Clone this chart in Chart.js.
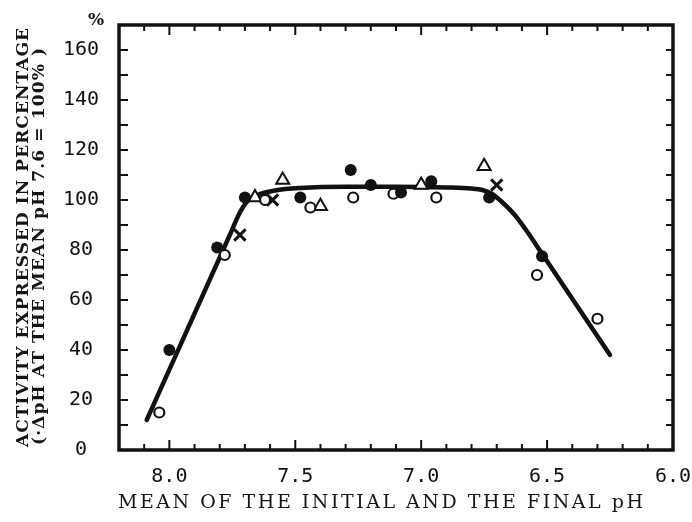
<!DOCTYPE html>
<html><head><meta charset="utf-8">
<script src="https://cdn.jsdelivr.net/npm/chart.js@4.4.1/dist/chart.umd.min.js"></script>
<style>html,body{margin:0;padding:0;background:#fff}#wrap{width:692px;height:522px;position:relative}</style>
</head><body><div id="wrap"><canvas id="c" width="692" height="522"></canvas></div>
<script>
// ---- data ----
const filledX = [8.00, 7.81, 7.70, 7.48, 7.28, 7.20, 7.08, 6.96, 6.73, 6.52];
const filledY = [40, 81, 101, 101, 112, 106, 103, 107.5, 101, 77.5];
const openX = [8.04, 7.78, 7.62, 7.44, 7.27, 7.11, 6.94, 6.54, 6.30];
const openY = [15, 78, 100, 97, 101, 102.5, 101, 70, 52.5];
const triX = [7.66, 7.55, 7.40, 7.00, 6.75];
const triY = [101, 108, 97.5, 106, 113.5];
const crossX = [7.72, 7.59, 6.70];
const crossY = [86, 100, 106];
const curveX = [8.09, 7.76, 7.72, 7.69, 7.65, 7.58, 7.48, 7.30, 7.10, 6.90, 6.80, 6.76, 6.72, 6.68, 6.63, 6.58, 6.52, 6.43, 6.31, 6.25];
const curveY = [12, 86, 95, 99.5, 102, 103.8, 104.8, 105.3, 105.3, 105, 104.6, 104.1, 102.5, 99.3, 94.2, 87.5, 78.5, 65, 47, 38];

const xTickValues = [8.0, 7.5, 7.0, 6.5, 6.0];
const xMinorTicks = [8.1, 8.0, 7.9, 7.8, 7.7, 7.6, 7.5, 7.4, 7.3, 7.2, 7.1, 7.0, 6.9, 6.8, 6.7, 6.6, 6.5, 6.4, 6.3, 6.2, 6.1];
const yTickValues = [0, 20, 40, 60, 80, 100, 120, 140, 160];
const yMinorTicks = [10, 20, 30, 40, 50, 60, 70, 80, 90, 100, 110, 120, 130, 140, 150, 160];

const xTitle = 'MEAN OF THE INITIAL AND THE FINAL pH';
const yTitle1 = 'ACTIVITY EXPRESSED IN PERCENTAGE';
const yTitle2 = '(\u00B7\u0394pH AT THE MEAN pH 7.6 = 100% )';
const yUnit = '%';

const pts = (xs, ys) => xs.map((x, i) => ({x, y: ys[i]}));

function fitText(ctx, text, x, y, targetLen, rotate) {
  ctx.save();
  ctx.letterSpacing = '0px';
  const w = ctx.measureText(text).width;
  const n = text.length;
  const ls = (targetLen - w) / (n - 1);
  ctx.letterSpacing = ls + 'px';
  ctx.translate(x, y);
  if (rotate) ctx.rotate(-Math.PI / 2);
  ctx.textAlign = 'left';
  ctx.fillText(text, 0, 0);
  ctx.restore();
}

function zeroPad(s) {
  s.paddingLeft = 0; s.paddingRight = 0; s.paddingTop = 0; s.paddingBottom = 0;
}

const framePlugin = {
  id: 'framePlugin',
  afterDraw(chart) {
    const ctx = chart.ctx;
    const {left, right, top, bottom} = chart.chartArea;
    const xs = chart.scales.x, ys = chart.scales.y;
    ctx.save();
    ctx.strokeStyle = '#111';
    ctx.lineWidth = 2;
    ctx.beginPath();
    xMinorTicks.forEach(v => {
      const px = xs.getPixelForValue(v);
      const major = xTickValues.some(t => Math.abs(t - v) < 1e-6);
      const len = major ? 10 : 6;
      ctx.moveTo(px, bottom); ctx.lineTo(px, bottom - len);
      ctx.moveTo(px, top); ctx.lineTo(px, top + len);
    });
    yMinorTicks.forEach(v => {
      const py = ys.getPixelForValue(v);
      ctx.moveTo(left, py); ctx.lineTo(left + 9, py);
      ctx.moveTo(right, py); ctx.lineTo(right - 7, py);
    });
    ctx.stroke();
    ctx.lineWidth = 3.5;
    ctx.strokeRect(left, top, right - left, bottom - top);

    ctx.fillStyle = '#151515';
    ctx.textBaseline = 'alphabetic';
    ctx.font = '19px "DejaVu Serif"';
    fitText(ctx, xTitle, 118, 508, 525, false);
    ctx.textBaseline = 'middle';
    ctx.font = 'bold 17px "DejaVu Serif"';
    fitText(ctx, yTitle1, 24, 447, 419, true);
    fitText(ctx, yTitle2, 40, 445, 397, true);
    ctx.font = 'bold 17px "DejaVu Serif"';
    ctx.textAlign = 'center';
    ctx.fillText(yUnit, 96, 21);
    ctx.restore();
  }
};

new Chart(document.getElementById('c'), {
  type: 'scatter',
  data: {
    datasets: [
      {label: 'filled', data: pts(filledX, filledY), pointStyle: 'circle', pointRadius: 6, pointBackgroundColor: '#111', pointBorderColor: '#111', pointBorderWidth: 0},
      {label: 'open', data: pts(openX, openY), pointStyle: 'circle', pointRadius: 5, pointBackgroundColor: '#fff', pointBorderColor: '#111', pointBorderWidth: 2.2},
      {label: 'triangle', data: pts(triX, triY), pointStyle: 'triangle', pointRadius: 7.5, pointBackgroundColor: '#fff', pointBorderColor: '#111', pointBorderWidth: 2},
      {label: 'cross', data: pts(crossX, crossY), pointStyle: 'crossRot', pointRadius: 8, pointBorderColor: '#111', pointBorderWidth: 3},
      {label: 'curve', type: 'line', data: pts(curveX, curveY), showLine: true, borderColor: '#111', borderWidth: 4.5, pointRadius: 0, cubicInterpolationMode: 'monotone', borderCapStyle: 'round', borderJoinStyle: 'round', fill: false}
    ]
  },
  options: {
    responsive: false,
    animation: false,
    events: [],
    layout: {padding: {left: 0, right: 19, top: 25, bottom: 0}},
    plugins: {legend: {display: false}, tooltip: {enabled: false}},
    scales: {
      x: {
        type: 'linear', position: 'bottom', reverse: true, min: 6.0, max: 8.2,
        grid: {display: false, drawTicks: false}, border: {display: false},
        afterBuildTicks: s => { s.ticks = xTickValues.map(v => ({value: v})); },
        afterFit: s => { s.height = 72; zeroPad(s); },
        ticks: {autoSkip: false, maxRotation: 0, minRotation: 0, padding: 15, color: '#111',
          font: {family: '"DejaVu Sans Mono"', size: 20},
          callback: v => Number(v).toFixed(1)}
      },
      y: {
        type: 'linear', position: 'left', min: 0, max: 170,
        grid: {display: false, drawTicks: false}, border: {display: false},
        afterBuildTicks: s => { s.ticks = yTickValues.map(v => ({value: v})); },
        afterFit: s => { s.width = 119; zeroPad(s); },
        ticks: {autoSkip: false, crossAlign: 'center', padding: 20, color: '#111',
          font: {family: '"DejaVu Sans Mono"', size: 20}}
      }
    }
  },
  plugins: [framePlugin]
});
</script>
</body></html>
